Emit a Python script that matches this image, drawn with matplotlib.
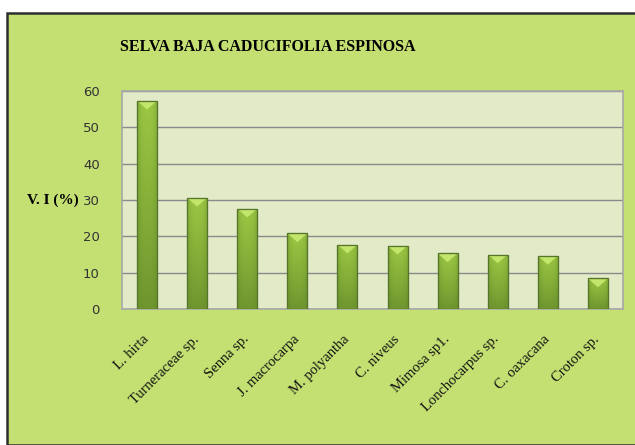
import matplotlib.pyplot as plt
import matplotlib.transforms as mtransforms
from matplotlib.patches import Rectangle, Polygon
from matplotlib.colors import LinearSegmentedColormap
import numpy as np

species = ["L. hirta", "Turneraceae sp.", "Senna sp.", "J. macrocarpa", "M. polyantha",
           "C. niveus", "Mimosa sp1.", "Lonchocarpus sp.", "C. oaxacana", "Croton sp."]
vi = [57.3, 30.6, 27.6, 20.8, 17.7, 17.4, 15.3, 15.0, 14.6, 8.4]
yticks = [0, 10, 20, 30, 40, 50, 60]

fig = plt.figure(figsize=(6.35, 4.45), dpi=100)
fig.patch.set_facecolor("white")

# green chart area with dark frame
W, H = 635, 445
fig.patches.append(Rectangle((7 / W, 0), 1, 1 - 13 / H, transform=fig.transFigure,
                             facecolor="#c5e072", edgecolor="#2e2e2e", linewidth=1.8, zorder=-5))

ax = fig.add_axes([122 / W, 1 - 309 / H, 501 / W, 218 / H])
ax.set_zorder(2)
ax.set_facecolor("#e2eac8")
x = np.arange(len(species))
bw = 0.4
bars = ax.bar(x, vi, width=bw, color="#8cb53b", edgecolor="#5a7a2a", linewidth=0.8, zorder=3)

# bar shading: lighter at top, darker to bottom and to the sides
cmap = LinearSegmentedColormap.from_list("g", ["#5f8428", "#7fa736", "#9cc743"])
vert = np.linspace(0, 1, 64)[:, None]
horiz = 1 - 0.45 * np.abs(np.linspace(-1, 1, 32))[None, :] ** 3
grad = vert * 0.75 * horiz + 0.25 * horiz
for b, v in zip(bars, vi):
    x0 = b.get_x()
    im = ax.imshow(grad, extent=[x0, x0 + bw, 0, v], origin="lower", cmap=cmap,
                   aspect="auto", zorder=3.5, vmin=0, vmax=1)
    im.set_clip_path(b)
    cx = x0 + bw / 2
    ax.add_patch(Polygon([(x0 + 0.02, v - 0.2), (x0 + bw - 0.02, v - 0.2), (cx, v - 2.4)],
                         closed=True, facecolor="#c2e66a", edgecolor="none", zorder=4))
    ax.add_patch(Rectangle((x0, 0), bw, v, facecolor="none", edgecolor="#56752a",
                           linewidth=0.9, zorder=4.5))

ax.set_xlim(-0.5, len(species) - 0.5)
ax.set_ylim(0, 60)
ax.set_yticks(yticks)
ax.yaxis.grid(True, color="#8a8a8a", linewidth=1.0, zorder=1)
ax.tick_params(axis="y", length=0, pad=16, labelsize=9.5, labelcolor="#333333")
ax.tick_params(axis="x", length=0, pad=17)
ax.set_xticks(x)
ax.set_xticklabels(species, rotation=45, ha="right", va="top", rotation_mode="anchor",
                   family="Liberation Serif", fontsize=10.5, color="#111111")
shift = mtransforms.ScaledTranslation(-5 / 100, 0, fig.dpi_scale_trans)
for lab in ax.get_xticklabels():
    lab.set_transform(lab.get_transform() + shift)
for s in ax.spines.values():
    s.set_color("#a8a8a8")
    s.set_linewidth(1.2)

fig.text(268 / W, 1 - 47 / H, "SELVA BAJA CADUCIFOLIA ESPINOSA", ha="center", va="center",
         family="Liberation Serif", fontweight="bold", fontsize=11.5)
fig.text(53 / W, 1 - 200 / H, "V. I (%)", ha="center", va="center",
         family="Liberation Serif", fontweight="bold", fontsize=11)

fig.savefig("out.png", dpi=100, facecolor=fig.get_facecolor())
